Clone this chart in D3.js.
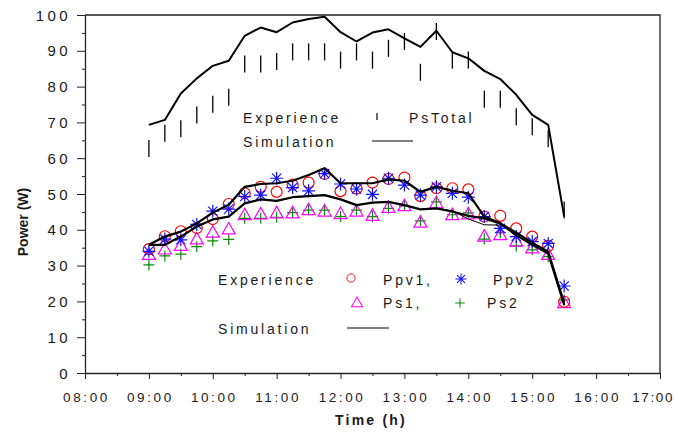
<!DOCTYPE html>
<html>
<head>
<meta charset="utf-8">
<script src="https://cdn.jsdelivr.net/npm/d3@7"></script>
<style>
  body { margin: 0; background: #fff; }
  svg text { font-family: "Liberation Sans", Arial, sans-serif; fill: #1a1a1a; }
</style>
</head>
<body>
<div id="vis"></div>
<script>
// sample times, every 15 min
const times = ["09:00","09:15","09:30","09:45","10:00","10:15","10:30","10:45","11:00","11:15",
  "11:30","11:45","12:00","12:15","12:30","12:45","13:00","13:15","13:30","13:45",
  "14:00","14:15","14:30","14:45","15:00","15:15","15:30"];

const psTotalExp = [62.7,67.0,68.2,72.1,75.1,77.0,86.3,86.3,87.0,89.7,89.7,89.7,87.4,89.7,87.4,90.7,
  92.6,84.0,95.4,87.4,87.4,76.5,76.5,71.6,68.8,65.4,45.5];
const psTotalSim = [69.3,70.7,78.1,82.3,85.8,87.2,94.2,96.5,95.2,97.9,98.9,99.5,95.2,92.6,95.1,96.0,
  93.5,91.1,95.6,89.6,87.9,84.4,82.1,77.7,72.1,69.3,43.7];

const ppv1 = [34.6,38.2,39.6,40.5,43.0,47.2,50.2,52.0,50.6,52.6,53.2,55.6,50.8,51.5,53.2,54.2,
  54.6,49.4,51.6,51.6,51.3,43.7,43.9,40.4,38.1,35.5,19.9];
const ppv2 = [34.0,37.4,37.2,41.5,45.2,45.8,49.3,49.7,54.4,51.8,50.9,55.7,52.8,51.4,49.9,54.4,
  52.5,49.7,52.0,50.2,49.1,43.7,40.4,38.1,36.7,36.2,24.3];
const ps1 = [33.0,34.5,35.5,37.3,39.2,40.1,44.1,44.3,44.6,44.6,45.5,45.1,44.4,45.1,43.9,46.1,
  46.6,42.0,47.4,44.1,44.3,38.1,38.5,36.7,34.8,33.0,19.5];
const ps2 = [30.2,32.7,33.2,35.3,36.9,37.3,43.2,43.2,43.5,44.8,45.5,45.5,43.7,45.5,43.7,46.0,
  46.7,42.5,47.8,44.2,44.7,37.4,39.2,35.5,34.4,32.5,20.4];

const ppvSim = [35.8,38.1,39.5,41.8,44.8,47.0,52.0,52.8,53.0,53.7,55.3,57.2,53.0,53.0,53.0,54.1,
  53.7,50.6,52.0,50.9,50.2,43.7,41.8,39.2,36.4,33.9,19.5];
const psSim = [35.8,35.8,38.1,40.9,42.9,43.7,47.4,48.5,48.1,49.1,49.4,49.7,48.5,46.9,47.6,47.8,
  46.9,45.7,46.0,45.1,43.9,43.2,41.8,38.5,35.8,33.4,19.0];
const ps2Sim = [35.8,35.8,38.1,40.9,42.9,43.7,47.4,48.5,48.1,49.1,49.4,49.7,48.5,46.9,47.6,47.8,
  46.9,45.7,46.0,45.3,43.0,41.4,41.3,39.3,36.2,33.6,19.2];

const xTicks = ["08:00","09:00","10:00","11:00","12:00","13:00","14:00","15:00","16:00","17:00"];
const yTicks = [0,10,20,30,40,50,60,70,80,90,100];

const W = 675, H = 439;
const m = { left: 85, right: 15, top: 15, bottom: 66 };

const hours = s => { const p = s.split(":"); return +p[0] + p[1] / 60; };

const x = d3.scaleLinear().domain([8, 17]).range([m.left, W - m.right]);
const y = d3.scaleLinear().domain([0, 100]).range([H - m.bottom, m.top]);

const svg = d3.select("#vis").append("svg").attr("width", W).attr("height", H);

// axes
const xAxis = d3.axisBottom(x)
  .tickValues(d3.range(8, 17.01, 0.5))
  .tickSize(0).tickFormat("");
const gx = svg.append("g").attr("transform", `translate(0,${y(0)})`).call(xAxis);
gx.selectAll(".tick line").attr("y2", d => (d % 1 === 0 ? 6 : 3)).attr("stroke", "#222");
gx.select(".domain").attr("stroke", "#222").attr("stroke-width", 1.3);
const last = xTicks.length - 1;
svg.append("g").selectAll("text").data(xTicks).join("text")
  .attr("x", (d, i) => (i === last ? W - 1 : x(hours(d)) + 1.5)).attr("y", y(0) + 29)
  .attr("text-anchor", (d, i) => (i === last ? "end" : "middle"))
  .style("font-size", "13.5px").style("letter-spacing", (d, i) => (i === last ? "1.6px" : "2.6px"))
  .text(d => d);

const yAxis = d3.axisLeft(y).tickValues(d3.range(0, 100.1, 5)).tickSize(0).tickFormat("");
const gy = svg.append("g").attr("transform", `translate(${m.left},0)`).call(yAxis);
gy.selectAll(".tick line").attr("x2", d => (d % 10 === 0 ? -8 : -3)).attr("stroke", "#222");
gy.select(".domain").attr("stroke", "#222").attr("stroke-width", 1.3);
svg.append("g").selectAll("text").data(yTicks).join("text")
  .attr("x", m.left - 14).attr("y", d => y(d) + 5.5)
  .attr("text-anchor", "end")
  .style("font-size", "15px").style("letter-spacing", "3.4px")
  .text(d => d);

// frame top / right
svg.append("path")
  .attr("d", `M${x(8)},${y(100)}H${x(17)}V${y(0)}`)
  .attr("fill", "none").attr("stroke", "#222").attr("stroke-width", 1.3);

// axis titles
svg.append("text")
  .attr("transform", `translate(28,${222}) rotate(-90)`)
  .attr("text-anchor", "middle")
  .style("font-size", "14px").style("font-weight", "bold")
  .text("Power (W)");
svg.append("text")
  .attr("x", 371).attr("y", 425)
  .attr("text-anchor", "middle")
  .style("font-size", "14px").style("font-weight", "bold").style("letter-spacing", "2.2px")
  .text("Time (h)");

// marker shapes
const shapes = {
  circle: "M5.5,0A5.5,5.5 0 1,1 -5.5,0A5.5,5.5 0 1,1 5.5,0Z",
  star: "M-6.5,0H6.5M0,-6.5V6.5M-4.6,-4.6L4.6,4.6M-4.6,4.6L4.6,-4.6",
  tri: "M0,-7L6.5,4.5L-6.5,4.5Z",
  plus: "M-5.5,0H5.5M0,-5.5V5.5"
};

const series = [
  { vals: ps2, shape: "plus", color: "#0a8a0a" },
  { vals: ps1, shape: "tri", color: "#ff00ff" },
  { vals: ppv1, shape: "circle", color: "#ff0000" },
  { vals: ppv2, shape: "star", color: "#1010ff" }
];

series.forEach(s => {
  svg.append("g").selectAll("path").data(s.vals).join("path")
    .attr("transform", (d, i) => `translate(${x(hours(times[i]))},${y(d)})`)
    .attr("d", shapes[s.shape])
    .attr("fill", "none").attr("stroke", s.color).attr("stroke-width", 1.2);
});

// simulation lines
const line = d3.line().x((d, i) => x(hours(times[i]))).y(d => y(d));
[[ps2Sim, 1], [psSim, 2.2], [ppvSim, 2.2], [psTotalSim, 2]].forEach(([v, w]) => {
  svg.append("path").datum(v).attr("d", line)
    .attr("fill", "none").attr("stroke", "#000").attr("stroke-width", w)
    .attr("stroke-linejoin", "round");
});

// PsTotal experience ticks
svg.append("g").selectAll("line").data(psTotalExp).join("line")
  .attr("x1", (d, i) => x(hours(times[i]))).attr("x2", (d, i) => x(hours(times[i])))
  .attr("y1", d => y(d) - 8.5).attr("y2", d => y(d) + 8.5)
  .attr("stroke", "#000").attr("stroke-width", 1.3);

// legends
const legText = (tx, ty, t) => svg.append("text").attr("x", tx).attr("y", ty)
  .style("font-size", "14px").style("letter-spacing", "2.8px").text(t);

legText(243, 123, "Experience");
legText(409, 123, "PsTotal");
legText(243, 147, "Simulation");
svg.append("line").attr("x1", 377).attr("x2", 377).attr("y1", 113).attr("y2", 120)
  .attr("stroke", "#000").attr("stroke-width", 1.2);
svg.append("line").attr("x1", 372).attr("x2", 413).attr("y1", 141).attr("y2", 141)
  .attr("stroke", "#000").attr("stroke-width", 1.2);

legText(218, 285, "Experience");
legText(383, 285, "Ppv1,");
legText(493, 285, "Ppv2");
legText(383, 308, "Ps1,");
legText(487, 308, "Ps2");
legText(218, 334, "Simulation");
const legSym = [
  [351, 278, "circle", "#ff0000", 0.75],
  [461, 279, "star", "#1010ff", 0.85],
  [357, 303, "tri", "#ff00ff", 0.85],
  [460, 303, "plus", "#0a8a0a", 0.85]
];
legSym.forEach(([lx, ly, sh, c, k]) => {
  svg.append("path").attr("transform", `translate(${lx},${ly}) scale(${k})`)
    .attr("d", shapes[sh]).attr("fill", "none").attr("stroke", c).attr("stroke-width", 1.2);
});
svg.append("line").attr("x1", 347).attr("x2", 389).attr("y1", 328).attr("y2", 328)
  .attr("stroke", "#000").attr("stroke-width", 1.2);
</script>
</body>
</html>
